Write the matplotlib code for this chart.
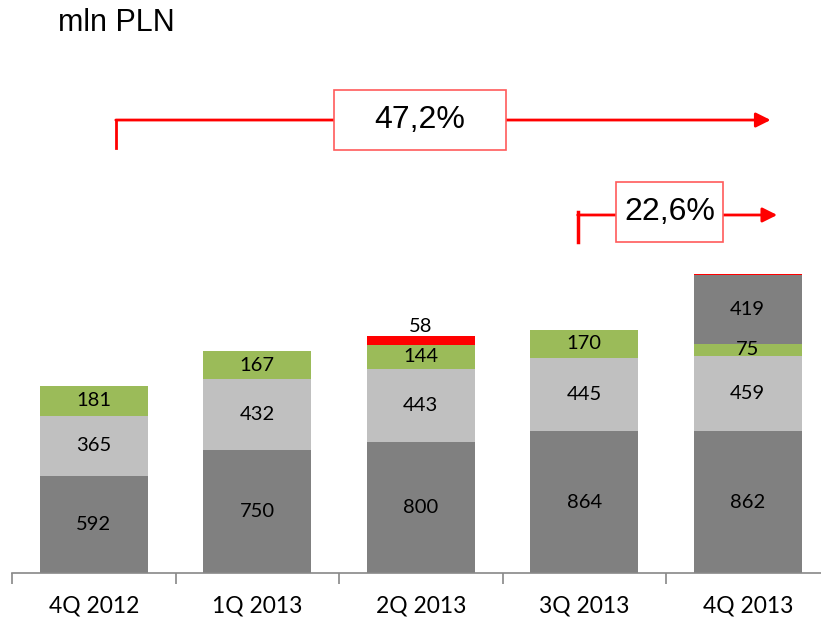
import numpy as np
import matplotlib.pyplot as plt
from matplotlib.patches import Rectangle

# dane (mln PLN)
kwartaly = ['4Q 2012', '1Q 2013', '2Q 2013', '3Q 2013', '4Q 2013']
ciemny = [592, 750, 800, 864, 862]
jasny = [365, 432, 443, 445, 459]
zielony = [181, 167, 144, 170, 75]
czerwony = [0, 0, 58, 0, 0]
ciemny_gora = [0, 0, 0, 0, 419]
czerwony_gora = [0, 0, 0, 0, 5]

wzrost_rok = '47,2%'
wzrost_kw = '22,6%'

# ---------------------------------------------------
fig = plt.figure(figsize=(8.21, 6.19), dpi=100)
ax = fig.add_axes([12 / 821, 46 / 619, 809 / 821, 573 / 619])

x = np.arange(len(kwartaly))
w = 0.66
seria = [(ciemny, '#808080'), (jasny, '#C0C0C0'), (zielony, '#9BBB59'),
         (czerwony, '#FF0000'), (ciemny_gora, '#808080'), (czerwony_gora, '#FF0000')]

dol = np.zeros(len(kwartaly))
for i, (vals, kol) in enumerate(seria):
    vals = np.array(vals, dtype=float)
    ax.bar(x, vals, w, bottom=dol, color=kol, linewidth=0)
    if i < 5:
        for xi, v, b in zip(x, vals, dol):
            if v <= 0:
                continue
            if kol == '#FF0000':
                # etykieta nad czerwonym segmentem
                ax.text(xi, b + v + 5, f'{int(v)}', ha='center', va='bottom',
                        fontsize=14.5, family='Lato', color='black')
            else:
                ax.text(xi, b + v / 2, f'{int(v)}', ha='center', va='center',
                        fontsize=14.5, family='Lato', color='black')
    dol += vals

for s in ['top', 'right', 'left']:
    ax.spines[s].set_visible(False)
ax.spines['bottom'].set_color('#888888')
ax.spines['bottom'].set_linewidth(1.2)
ax.set_yticks([])
ax.set_xticks(x)
ax.set_xticklabels(kwartaly, fontsize=16.5, family='Lato')
ax.tick_params(axis='x', which='major', length=0, pad=16)
ax.set_xticks(np.arange(-0.5, len(kwartaly), 1), minor=True)
ax.tick_params(axis='x', which='minor', length=8, width=1.2, color='#888888', direction='out')

# limity po tickach (set_xticks rozszerza zakres)
ax.set_xlim(-0.5, -0.5 + 809 / 163.5)
ax.set_ylim(0, 573 / 0.1643)

czer = '#FF0000'
ramka = '#FF5B5B'

# 47,2%: od 4Q 2012 do 4Q 2013
y1 = 2757
ax.plot([x[0] + 0.135, x[0] + 0.135], [y1 - 170, y1], color=czer, lw=2)
ax.annotate('', xy=(x[-1] + 0.14, y1), xytext=(x[0] + 0.135, y1),
            arrowprops=dict(arrowstyle='-|>', color=czer, lw=2, mutation_scale=22,
                            shrinkA=0, shrinkB=0))
bx, bw, bh = 1.995, 1.052, 365
ax.add_patch(Rectangle((bx - bw / 2, y1 - bh / 2), bw, bh, fc='white', ec=ramka,
                       lw=1.2, zorder=3))
ax.text(bx, y1, wzrost_rok, ha='center', va='center', fontsize=23,
        family='Liberation Sans', color='black', zorder=4)

# 22,6%: od 3Q 2013 do 4Q 2013
y2 = 2179
ax.plot([x[3] - 0.04, x[3] - 0.04], [y2 - 165, y2 + 20], color=czer, lw=2.5)
ax.annotate('', xy=(x[-1] + 0.18, y2), xytext=(x[3] - 0.04, y2),
            arrowprops=dict(arrowstyle='-|>', color=czer, lw=2, mutation_scale=22,
                            shrinkA=0, shrinkB=0))
bx2, bw2 = 3.521, 0.654
yb2 = 2197
ax.add_patch(Rectangle((bx2 - bw2 / 2, yb2 - bh / 2), bw2, bh, fc='white', ec=ramka,
                       lw=1.2, zorder=3))
ax.text(bx2, yb2, wzrost_kw, ha='center', va='center', fontsize=23,
        family='Liberation Sans', color='black', zorder=4)

fig.text(58 / 821, 1 - 8 / 619, 'mln PLN', ha='left', va='top', fontsize=22,
         family='Liberation Sans')

fig.savefig('out.png', dpi=100)
